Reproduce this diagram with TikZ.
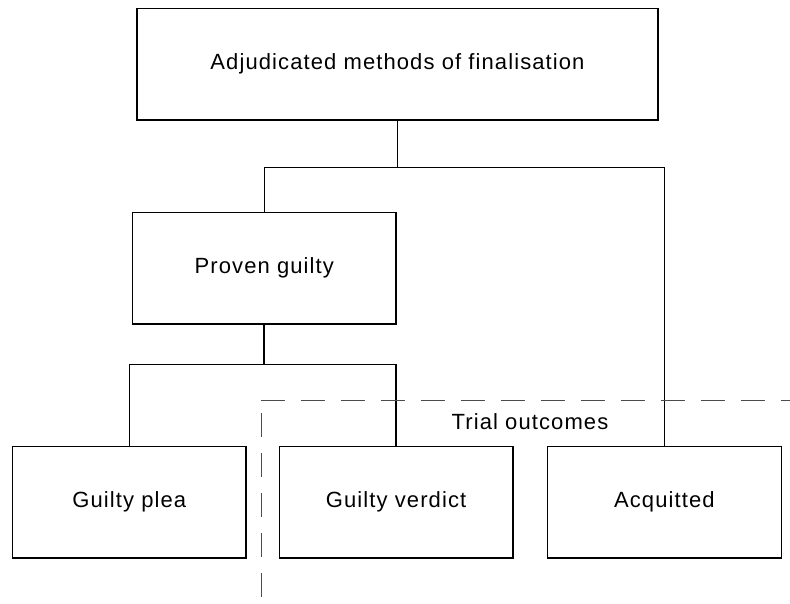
\documentclass[tikz,border=0pt]{standalone}
\usepackage{fontspec}
\setmainfont{Liberation Sans}[LetterSpace=5]
\usetikzlibrary{positioning}
\tikzset{font=\fontsize{22}{26}\selectfont}
\tikzset{
basic/.style  = {draw, line width=1.3pt, align=center, rectangle, minimum width=233.5pt, minimum height=111.5pt, inner sep=0pt},
link/.style = {line width=1.3pt},
region/.style = {draw=black!70, line width=1pt, dash pattern=on 24pt off 16pt},
}
\begin{document}
\begin{tikzpicture}[x=1pt, y=1pt]

	\useasboundingbox (0,0) rectangle (790,-603);

	\node[basic] (plea) at (129.3,-502.3) {Guilty plea};
	\node[basic, right =32pt of plea] (verdict) {Guilty verdict};
	\node[basic, right =33.5pt of verdict] (acquitted) {Acquitted};
	\node[basic, minimum width=263.5pt] (proven) at (264.3,-268.1) {Proven guilty};
	\node[basic, minimum width=521pt] (adjudicated) at (397.5,-64.3) {Adjudicated methods of finalisation};

	\draw[link, line width=1.7pt] (adjudicated.south) -- ++(0,-47) coordinate (topsplit);
	\draw[link] (proven.north) |- (topsplit) -| (acquitted.north);
	\draw[link, line width=1.7pt] (proven.south) -- ++(0,-40) coordinate (provensplit);
	\draw[link] (plea.north) |- (provensplit) -| (verdict.north);

	\coordinate (trialcorner) at (261,-400);
	\draw[region] (trialcorner) -- (790,-400);
	\draw[region] ([yshift=-13pt]trialcorner) -- (261,-598);
	\node (trial) at (530,-422) {Trial outcomes};

\end{tikzpicture}
\end{document}
